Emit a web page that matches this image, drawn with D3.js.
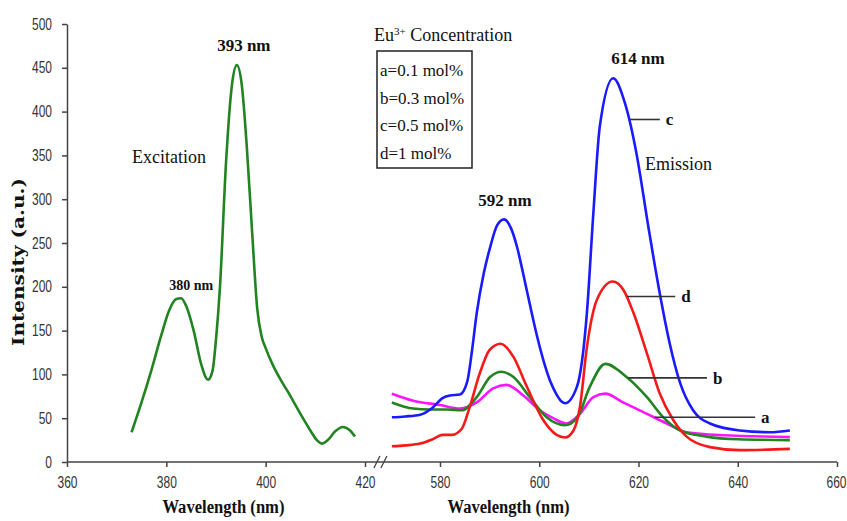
<!DOCTYPE html>
<html>
<head>
<meta charset="utf-8">
<style>
  body { margin: 0; background: #fff; }
  svg { display: block; }
  .tick text { font-family: "Liberation Sans", Arial, sans-serif; font-size: 16px; fill: #333; }
  .tick line { stroke: #444; stroke-width: 1.5; }
  .serif { font-family: "Liberation Serif", "Times New Roman", serif; fill: #111; }
</style>
</head>
<body>
<div id="graphic"></div>
<script src="https://d3js.org/d3.v7.min.js"></script>
<script>
// excitation spectrum  [wavelength nm, intensity]
var excitation = [[373,34],[375,68],[377,105],[379,145],[380.5,172],[382,186],[383,187],[384,178],
  [385.5,150],[387,112],[388.4,94],[389.3,104],[390,140],[390.8,200],[392,340],[393.2,430],[394.2,453],
  [395.2,430],[396.2,360],[397.3,260],[398.3,175],[399.2,143],[400,130],[401.5,110],[403,94],[404.5,80],
  [406.2,63],[407.5,50],[409,36],[410.3,25],[411.3,21],[412.5,25],[414,35],[415.5,40],[417,36],[418,29]];

// emission spectra, one per Eu3+ concentration
var emissionA = [[570.3,78],[574.6,70],[580,65],[584,61],[587.4,68],[590.7,84],[593.4,88],[596.8,76],
  [600.1,59],[602.8,50],[605.5,44],[608.2,55],[610.9,74],[613.3,78],[616.9,68],[621.7,55],[625.7,44],
  [629.7,34],[637.1,30.5],[650.5,28.6]];
var emissionB = [[570.3,68],[574.6,61],[578,60],[581.3,60],[584.4,59],[587.4,74],[590.1,97],[592.4,103],
  [594.8,97],[598.1,74],[601.5,51],[605.2,42],[607.6,50],[610.2,86],[613.3,112],[617.6,97],[621.7,74],
  [625,51],[628.4,36],[633.7,29],[640,26],[650.5,25]];
var emissionC = [[570.3,51],[573,52],[576,54],[578.5,62],[580.5,73],[582,76],[584,77],[585.5,92],
  [586.4,125],[587.4,170],[588.8,215],[590.1,245],[591.5,270],[592.9,277],[594.3,267],[595.5,246],
  [596.8,214],[598.1,180],[599.5,145],[601,113],[602.3,91],[603.5,77],[604.5,69],[605.2,67],[607.6,86],
  [609.6,170],[610.9,284],[612.2,383],[614.9,438],[617.3,409],[619.6,352],[622,268],[624.3,192],
  [626.3,135],[628.4,90],[631,59],[634.4,44],[640.4,36],[646.5,34],[650.5,36]];
var emissionD = [[570.3,18],[573,19],[576,21],[578.5,26],[580.5,31],[582.4,31],[584.4,38],[586,63],
  [588,101],[590,128],[592.2,135],[594.8,120],[597.5,86],[600.8,48],[603.5,31],[605.2,28],[606.9,36],
  [608.2,63],[609.6,131],[611.6,185],[614.8,206],[617,196],[619,170],[621.7,124],[624.3,78],[627,48],
  [629.7,29],[634.4,17],[640.4,13.5],[650.5,15]];

var yTicks = [0,50,100,150,200,250,300,350,400,450,500];
var xTicksLeft = [360,380,400,420];
var xTicksRight = [580,600,620,640,660];
var legendLines = ["a=0.1 mol%", "b=0.3 mol%", "c=0.5 mol%", "d=1 mol%"];

var width = 847, height = 521;
var svg = d3.select("#graphic").append("svg")
    .attr("width", width)
    .attr("height", height);

var y = d3.scaleLinear().domain([0, 500]).range([462, 24]);
var xL = d3.scaleLinear().domain([360, 420]).range([67, 365]);
var xR = d3.scaleLinear().domain([580, 660]).range([440, 837]);

// y axis
var gy = svg.append("g")
    .attr("transform", "translate(" + xL(360) + ",0)")
    .call(d3.axisLeft(y).tickValues(yTicks).tickSize(5).tickSizeOuter(0));
gy.select(".domain").attr("stroke", "#444").attr("stroke-width", 1.5);

// x axes (two pieces sharing one base line)
var gxl = svg.append("g")
    .attr("transform", "translate(0," + y(0) + ")")
    .call(d3.axisBottom(xL).tickValues(xTicksLeft).tickSize(5).tickPadding(10));
var gxr = svg.append("g")
    .attr("transform", "translate(0," + y(0) + ")")
    .call(d3.axisBottom(xR).tickValues(xTicksRight).tickSize(5).tickPadding(10));
gxl.select(".domain").remove();
gxr.select(".domain").remove();
// narrow look of the tick numbers
svg.selectAll(".tick text").attr("transform", "scale(0.75,1)");
gy.selectAll(".tick text").attr("x", -20);
gxr.selectAll(".tick text").filter(function (d) { return d === 660; })
    .attr("text-anchor", "end").attr("x", 12);

svg.append("line")
    .attr("x1", xL(360)).attr("x2", xR(660))
    .attr("y1", y(0)).attr("y2", y(0))
    .attr("stroke", "#444").attr("stroke-width", 1.5);

// axis break marks
var bx = xL(422.4);
[0, 7].forEach(function (off) {
    svg.append("line")
        .attr("x1", bx + off - 3).attr("y1", y(0) + 6)
        .attr("x2", bx + off + 3).attr("y2", y(0) - 6)
        .attr("stroke", "#444").attr("stroke-width", 1.3);
});

// curves
var lineL = d3.line().curve(d3.curveMonotoneX)
    .x(function (d) { return xL(d[0]); })
    .y(function (d) { return y(d[1]); });
var lineR = d3.line().curve(d3.curveMonotoneX)
    .x(function (d) { return xR(d[0]); })
    .y(function (d) { return y(d[1]); });

svg.append("path").datum(excitation)
    .attr("d", lineL).attr("fill", "none")
    .attr("stroke", "#218421").attr("stroke-width", 2.6);

var emission = [
    { data: emissionA, color: "#ff14ff" },
    { data: emissionB, color: "#218421" },
    { data: emissionD, color: "#f51a1a" },
    { data: emissionC, color: "#1a1aff" }
];
emission.forEach(function (s) {
    svg.append("path").datum(s.data)
        .attr("d", lineR).attr("fill", "none")
        .attr("stroke", s.color).attr("stroke-width", 2.6);
});

// curve labels with leader lines  [from nm, to nm, intensity, letter]
var curveLabels = [
    [618.3, 624.3, 391, "c"],
    [617.7, 627.4, 189, "d"],
    [617.9, 633.8, 96, "b"],
    [623.3, 643.5, 51, "a"]
];
curveLabels.forEach(function (c) {
    svg.append("line")
        .attr("x1", xR(c[0])).attr("x2", xR(c[1]))
        .attr("y1", y(c[2])).attr("y2", y(c[2]))
        .attr("stroke", "#333").attr("stroke-width", 1.6);
    svg.append("text").attr("class", "serif")
        .attr("x", xR(c[1]) + 6).attr("y", y(c[2]) + 6)
        .style("font-size", "17px").style("font-weight", "bold")
        .text(c[3]);
});

// text labels
function label(x, yy, txt, size, weight, anchor) {
    return svg.append("text").attr("class", "serif")
        .attr("x", x).attr("y", yy)
        .attr("text-anchor", anchor || "start")
        .style("font-size", size + "px").style("font-weight", weight)
        .text(txt);
}
label(xL(395.6), 51, "393 nm", 17, "bold", "middle");
label(xL(385), 290, "380 nm", 14, "bold", "middle");
label(132, 163, "Excitation", 18, "normal");
label(505, 206, "592 nm", 17, "bold", "middle");
label(638, 64, "614 nm", 17, "bold", "middle");
label(645, 170, "Emission", 18, "normal");

// legend
var lt = svg.append("text").attr("class", "serif")
    .attr("x", 374).attr("y", 41)
    .style("font-size", "18px");
lt.append("tspan").text("Eu");
lt.append("tspan").attr("dy", -6).style("font-size", "11px").text("3+");
lt.append("tspan").attr("dy", 6).text(" Concentration");

svg.append("rect")
    .attr("x", 377).attr("y", 51)
    .attr("width", 95).attr("height", 117)
    .attr("fill", "none").attr("stroke", "#222").attr("stroke-width", 1.5);
legendLines.forEach(function (t, i) {
    label(380, 76 + i * 27.7, t, 17, "normal");
});

// axis titles
label(xL(391.5), 513, "Wavelength (nm)", 18.5, "bold", "middle")
    .attr("textLength", 122).attr("lengthAdjust", "spacingAndGlyphs");
label(xR(593.8), 513, "Wavelength (nm)", 18.5, "bold", "middle")
    .attr("textLength", 122).attr("lengthAdjust", "spacingAndGlyphs");
svg.append("text")
    .attr("transform", "translate(24,262) rotate(-90)")
    .attr("text-anchor", "middle")
    .attr("textLength", 168).attr("lengthAdjust", "spacingAndGlyphs")
    .style("font-family", "'DejaVu Serif', serif").style("fill", "#111")
    .style("font-size", "17px").style("font-weight", "bold")
    .text("Intensity (a.u.)");
</script>
</body>
</html>
